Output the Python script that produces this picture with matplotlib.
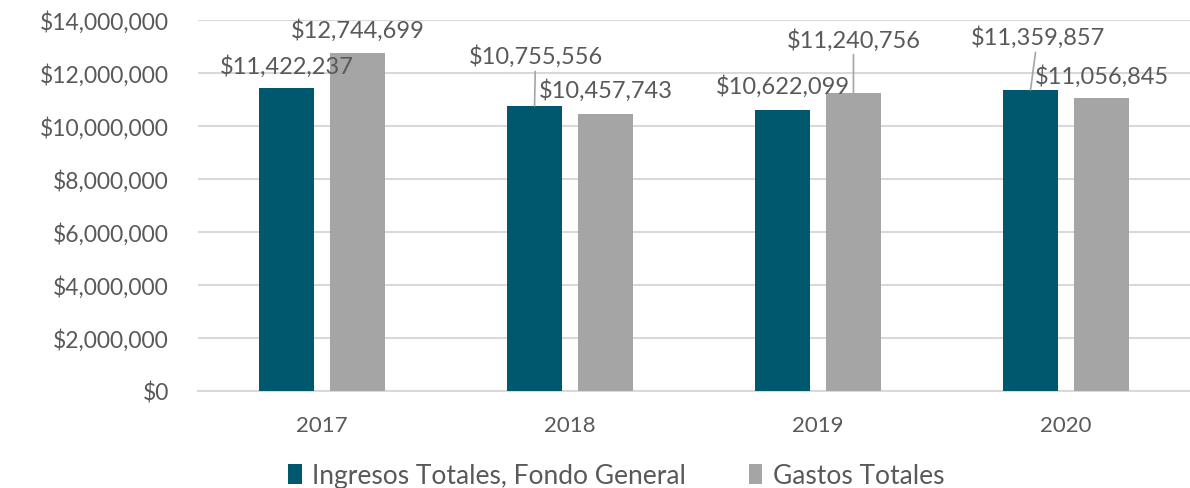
import numpy as np
import matplotlib
matplotlib.use('Agg')
import matplotlib.pyplot as plt
from matplotlib.ticker import FuncFormatter

plt.rcParams['font.family'] = ['Lato', 'DejaVu Sans']

years = ['2017', '2018', '2019', '2020']
ingresos = [11422237, 10755556, 10622099, 11359857]
gastos = [12744699, 10457743, 11240756, 11056845]
series_names = ['Ingresos Totales, Fondo General', 'Gastos Totales']

# label offsets in pixels from bar top (dx, dy), and whether a leader line is drawn
ing_off = [(0, 23), (1, 50), (0, 24), (7, 53)]
gas_off = [(0, 24), (0, 24), (0, 54), (0, 22)]
ing_lead = [False, True, False, True]
gas_lead = [False, False, True, False]

c_ing = '#00586e'
c_gas = '#a5a5a5'
txt = '#595959'

fig = plt.figure(figsize=(11.9, 4.89), dpi=100)
ax = fig.add_axes([198/1190, 1 - 392/489, 992/1190, 371/489])

x = np.arange(len(years))
w = 0.222
b1 = ax.bar(x - 0.143, ingresos, w, color=c_ing, label=series_names[0], zorder=3)
b2 = ax.bar(x + 0.143, gastos, w, color=c_gas, label=series_names[1], zorder=3)

def label(bars, vals, offs, leads):
    for r, v, (dx, dy), ld in zip(bars, vals, offs, leads):
        xy = (r.get_x() + r.get_width()/2, r.get_height())
        kw = {}
        if ld:
            kw['arrowprops'] = dict(arrowstyle='-', color=c_gas, lw=1.2, shrinkA=1, shrinkB=0)
        ax.annotate('${:,.0f}'.format(v), xy, xytext=(dx, dy), textcoords='offset pixels',
                    ha='center', va='center', fontsize=17, color=txt, **kw)

label(b1, ingresos, ing_off, ing_lead)
label(b2, gastos, gas_off, gas_lead)

ax.set_xlim(-0.5, 3.5)
ax.set_ylim(0, 14000000)
ax.set_yticks(np.arange(0, 14000001, 2000000))
ax.yaxis.set_major_formatter(FuncFormatter(lambda v, p: '${:,.0f}'.format(v)))
ax.set_xticks(x)
ax.set_xticklabels(years)
ax.grid(axis='y', color='#d9d9d9', lw=1.5, zorder=0)
for s in ['top', 'right', 'left']:
    ax.spines[s].set_visible(False)
ax.spines['bottom'].set_color('#d9d9d9')
ax.spines['bottom'].set_linewidth(1.5)
ax.tick_params(length=0, labelcolor=txt)
ax.tick_params(axis='y', labelsize=16.5, pad=21)
ax.tick_params(axis='x', labelsize=16, pad=17)

leg = fig.legend(loc='center', bbox_to_anchor=(0.518, 0.025), ncol=2, frameon=False,
                 fontsize=19, handlelength=0.5, handleheight=0.8, handletextpad=0.4,
                 columnspacing=2.4)
for t in leg.get_texts():
    t.set_color(txt)

fig.savefig('out.png', dpi=100)
